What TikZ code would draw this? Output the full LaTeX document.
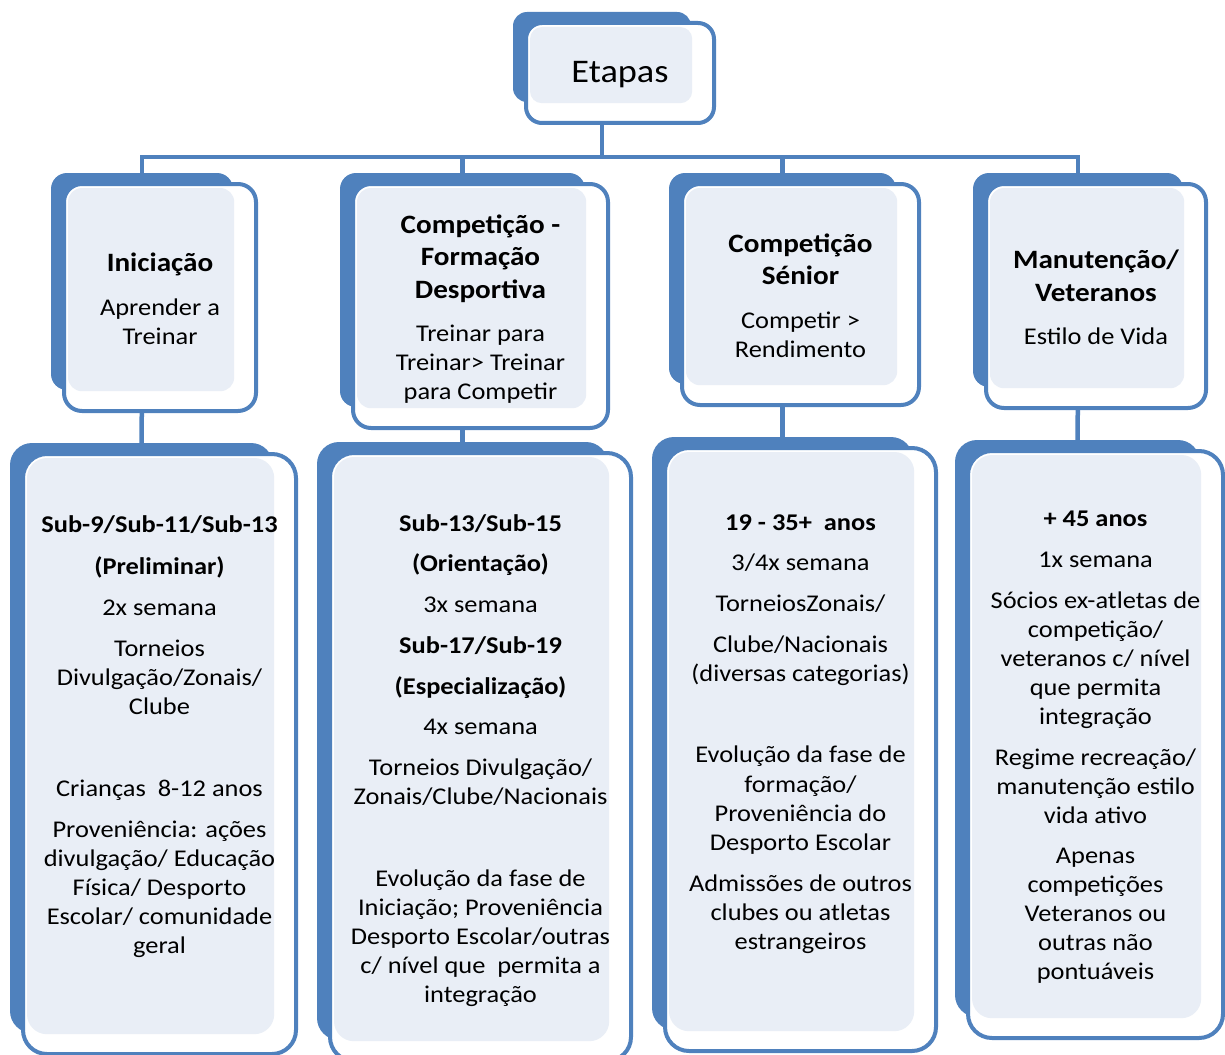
\documentclass[tikz,border=0pt]{standalone}
\usepackage{fontspec}
\setmainfont{Carlito}[FakeStretch=1.1]
\usetikzlibrary{calc,backgrounds}
\definecolor{azul}{HTML}{4F81BD}
\definecolor{fundo}{HTML}{E9EEF6}
\newcommand{\titulo}[1]{{\bfseries\fontsize{26.5}{32}\selectfont #1}}

\begin{document}
\begin{tikzpicture}[x=1pt, y=-1pt,
  tras/.style={fill=azul, inner sep=0pt},
  frente/.style={draw=azul, line width=4pt, fill=white, inner sep=0pt},
  linha/.style={draw=azul, line width=4.5pt},
  texto/.style={align=center, font=\fontsize{24}{29}\selectfont}]
\useasboundingbox (0,0) rectangle (1225,1054);
\clip (0,0) rectangle (1225,1054);

% caixas: fundo azul, moldura branca e area clara
\foreach \n/\x/\y/\w/\h/\r in {etapas/602/57/178/90/14, ini/142/281.5/182/217/16,
    form/462.5/290/245/234/16, sen/782.5/278.5/227/211/16, vet/1078/280/210/214/16,
    ini2/141.5/738/263/590/22, form2/462.5/741/291/598/22,
    sen2/782.5/733.5/261/593/22, vet2/1077.5/728.5/245/577/22}
{
  \node[tras, rounded corners=\r, minimum width=\w, minimum height=\h] (\n) at (\x,\y) {};
  \node[frente, rounded corners=\r+2, minimum width=\w+10, minimum height=\h+10] (\n-f) at (\x+18,\y+16) {};
  \fill[fundo, rounded corners=\r-2] ($(\n-f.north west)+(6,6)$) rectangle ($(\n.south east)+(1,1)$);
}

\node[texto, font=\fontsize{33}{40}\selectfont] (etapas-t) at ($(etapas-f)+(0,2)$) {Etapas};

\node[texto] (ini-t) at ($(ini-f)+(0,1)$) {\titulo{Iniciação}\\[15pt] Aprender a\\ Treinar};
\node[texto] (form-t) at ($(form-f)+(0,3)$) {\titulo{Competição -}\\[3pt] \titulo{Formação}\\[4pt]
  \titulo{Desportiva}\\[14pt] Treinar para\\ Treinar> Treinar\\ para Competir};
\node[texto] (sen-t) at ($(sen-f)+(0,1)$) {\titulo{Competição}\\[3pt] \titulo{Sénior}\\[15pt]
  Competir >\\ Rendimento};
\node[texto] (vet-t) at ($(vet-f)+(0,1)$) {\titulo{Manutenção/}\\[4pt] \titulo{Veteranos}\\[14pt]
  Estilo de Vida};

\node[texto] (ini2-t) at ($(ini2-f)+(0,-17)$) {\textbf{Sub-9/Sub-11/Sub-13}\\[13pt]
  \textbf{(Preliminar)}\\[12pt]
  2x semana\\[12pt]
  Torneios\\ Divulgação/Zonais/\\ Clube\\[53pt]
  Crianças\ \ 8-12 anos\\[12pt]
  Proveniência: ações\\ divulgação/ Educação\\ Física/ Desporto\\ Escolar/ comunidade\\ geral};
\node[texto] (form2-t) at ($(form2-f)+(0,4)$) {\textbf{Sub-13/Sub-15}\\[11pt]
  \textbf{(Orientação)}\\[12pt]
  3x semana\\[12pt]
  \textbf{Sub-17/Sub-19}\\[12pt]
  \textbf{(Especialização)}\\[11pt]
  4x semana\\[12pt]
  Torneios Divulgação/\\ Zonais/Clube/Nacionais\\[53pt]
  Evolução da fase de\\ Iniciação; Proveniência\\ Desporto Escolar/outras\\
  c/ nível que\ \ permita a\\ integração};
\node[texto] (sen2-t) at ($(sen2-f)+(0,-15)$) {\textbf{19 - 35+\ \ anos}\\[11pt]
  3/4x semana\\[12pt]
  TorneiosZonais/\\[12pt]
  Clube/Nacionais\\ (diversas categorias)\\[52pt]
  Evolução da fase de\\[1pt] formação/\\ Proveniência do\\ Desporto Escolar\\[12pt]
  Admissões de outros\\ clubes ou atletas\\ estrangeiros};
\node[texto] (vet2-t) at ($(vet2-f)+(0,3)$) {\textbf{+ 45 anos}\\[12pt]
  1x semana\\[12pt]
  Sócios ex-atletas de\\ competição/\\ veteranos c/ nível\\ que permita\\ integração\\[12pt]
  Regime recreação/\\ manutenção estilo\\ vida ativo\\[11pt]
  Apenas\\ competições\\ Veteranos ou\\ outras não\\ pontuáveis};

% ligacoes
\begin{scope}[on background layer]
\coordinate (barra) at (602,157);
\draw[linha] (etapas.south) -- (barra);
\foreach \a/\b in {ini/ini2, form/form2, sen/sen2, vet/vet2}
{
  \draw[linha] (\a.north) |- (barra);
  \draw[linha] (\a.south) -- (\b.north);
}
\end{scope}
\end{tikzpicture}
\end{document}
